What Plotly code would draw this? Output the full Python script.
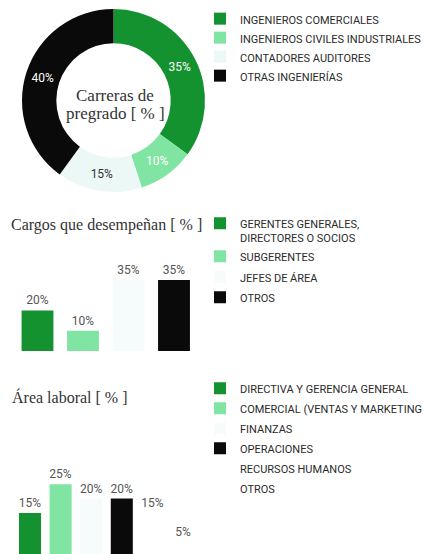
import plotly.graph_objects as go

W, H = 430, 554
OFF = 8  # the page body margin shifts the figure by 8px

# ---------------- data ----------------
carreras_labels = ["INGENIEROS COMERCIALES", "INGENIEROS CIVILES INDUSTRIALES",
                   "CONTADORES AUDITORES", "OTRAS INGENIERÍAS"]
carreras_values = [35, 10, 15, 40]

cargos_labels = ["GERENTES GENERALES,<br>DIRECTORES O SOCIOS", "SUBGERENTES",
                 "JEFES DE ÁREA", "OTROS"]
cargos_values = [20, 10, 35, 35]

area_labels = ["DIRECTIVA Y GERENCIA GENERAL", "COMERCIAL (VENTAS Y MARKETING)",
               "FINANZAS", "OPERACIONES", "RECURSOS HUMANOS", "OTROS"]
area_values = [15, 25, 20, 20, 15, 5]

# ---------------- style ----------------
DARK = "#14922f"
LIGHT = "#80e4a2"
PALE = "#ecf8f5"
PALER = "#f6fcfb"
BLACK = "#0a0a0a"
WHITE = "#ffffff"

carreras_colors = [DARK, LIGHT, PALE, BLACK]
carreras_text_colors = ["white", "white", "#333333", "white"]
cargos_colors = [DARK, LIGHT, PALER, BLACK]
area_colors = [DARK, LIGHT, PALER, BLACK, WHITE, WHITE]

SANS = "Roboto"
SERIF = "Liberation Serif"
TXT = "#2b2b2b"


def px_x(x):
    return (x - OFF) / W


def px_y(y):
    return 1 - (y - OFF) / H


fig = go.Figure()

fig.add_trace(go.Pie(
    labels=carreras_labels, values=carreras_values,
    sort=False, direction="clockwise", rotation=0,
    hole=0.625,
    marker=dict(colors=carreras_colors, line=dict(width=0)),
    texttemplate="%{value}%", textposition="inside",
    insidetextorientation="horizontal",
    textfont=dict(family=SANS, size=12, color=carreras_text_colors),
    domain=dict(x=[px_x(22), px_x(205)], y=[px_y(192), px_y(9)]),
    legend="legend", hoverinfo="label+percent",
))

for i, (lab, val) in enumerate(zip(cargos_labels, cargos_values)):
    fig.add_trace(go.Bar(
        x=[i], y=[val], name=lab,
        marker=dict(color=cargos_colors[i], line=dict(width=0)),
        width=0.7, texttemplate="%{y}%", textposition="outside",
        textfont=dict(family=SANS, size=12, color="#555555"),
        constraintext="none", cliponaxis=False,
        xaxis="x", yaxis="y", legend="legend2", legendgroup="c%d" % i,
    ))

for i, (lab, val) in enumerate(zip(area_labels, area_values)):
    fig.add_trace(go.Bar(
        x=[i], y=[val], name=lab,
        marker=dict(color=area_colors[i], line=dict(width=0)),
        width=0.72, texttemplate="%{y}%", textposition="outside",
        textfont=dict(family=SANS, size=12, color="#555555"),
        constraintext="none", cliponaxis=False,
        xaxis="x2", yaxis="y2", legend="legend3", legendgroup="a%d" % i,
    ))

axis_off = dict(visible=False, showgrid=False, zeroline=False, fixedrange=True)

legend_common = dict(font=dict(family=SANS, size=11, color=TXT),
                     bgcolor="rgba(0,0,0,0)", borderwidth=0,
                     xanchor="left", yanchor="top", traceorder="grouped",
                     valign="top")

fig.update_layout(
    width=W, height=H,
    margin=dict(l=0, r=0, t=0, b=0, autoexpand=False),
    paper_bgcolor="white", plot_bgcolor="white",
    barmode="overlay",
    xaxis=dict(domain=[px_x(14.75), px_x(196.75)], range=[-0.5, 3.5], **axis_off),
    yaxis=dict(domain=[px_y(351), px_y(269.8)], range=[0, 40], **axis_off),
    xaxis2=dict(domain=[px_x(14.7), px_x(198.3)], range=[-0.5, 5.5], **axis_off),
    yaxis2=dict(domain=[px_y(556), px_y(440)], range=[0, 40.42], **axis_off),
    legend=dict(x=px_x(200), y=px_y(5), tracegroupgap=2, **legend_common),
    legend2=dict(x=px_x(200), y=px_y(209.6), tracegroupgap=1.5, **legend_common),
    legend3=dict(x=px_x(200), y=px_y(374.5), tracegroupgap=1, **legend_common),
    showlegend=True,
    annotations=[
        dict(text="Carreras de", x=px_x(115), y=px_y(95), xref="paper", yref="paper",
             xanchor="center", yanchor="middle", showarrow=False,
             font=dict(family=SERIF, size=17, color="#333333")),
        dict(text="pregrado [ % ]", x=px_x(115), y=px_y(113), xref="paper", yref="paper",
             xanchor="center", yanchor="middle", showarrow=False,
             font=dict(family=SERIF, size=17, color="#333333")),
        dict(text="Cargos que desempeñan [ % ]", x=px_x(9), y=px_y(225), xref="paper", yref="paper",
             xanchor="left", yanchor="middle", showarrow=False,
             font=dict(family=SERIF, size=16, color="#333333")),
        dict(text="Área laboral [ % ]", x=px_x(10), y=px_y(397), xref="paper", yref="paper",
             xanchor="left", yanchor="middle", showarrow=False,
             font=dict(family=SERIF, size=16, color="#333333")),
    ],
)

fig.write_html("out.html")
